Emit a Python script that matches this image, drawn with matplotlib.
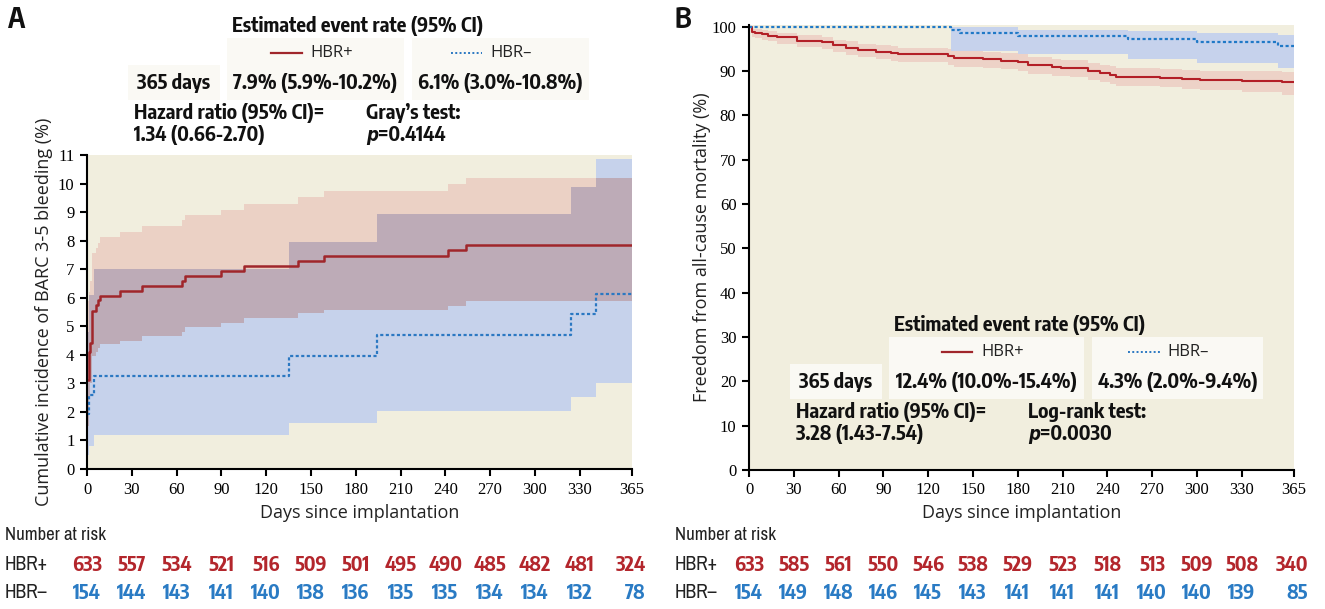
import matplotlib
matplotlib.use('Agg')
import matplotlib.pyplot as plt
import matplotlib.transforms as mtransforms
from matplotlib.patches import Rectangle
from matplotlib.lines import Line2D
import numpy as np

W, H = 1325, 609

# ---- panel A: cumulative incidence of BARC 3-5 bleeding (%) ----
a_pos_t = [0, 1.6, 2, 3.3, 5.8, 7.6, 8.7, 22, 37, 63.4, 65.6, 89.5, 105, 141, 159, 242, 254]
a_pos = [3.12, 4.09, 4.42, 5.53, 5.73, 5.92, 6.07, 6.22, 6.41, 6.58, 6.76, 6.93, 7.12, 7.29, 7.47, 7.67, 7.86]
a_pos_hi = [5.9, 6.2, 6.6, 7.55, 7.75, 7.9, 8.12, 8.31, 8.51, 8.72, 8.9, 9.09, 9.3, 9.52, 9.74, 9.97, 10.18]
a_pos_lo = [1.5, 2.5, 3.0, 3.95, 4.1, 4.25, 4.38, 4.5, 4.66, 4.8, 4.96, 5.1, 5.28, 5.45, 5.57, 5.72, 5.88]

a_neg_t = [0, 1.5, 4.9, 135, 194, 324, 341]
a_neg = [1.93, 2.6, 3.26, 3.97, 4.69, 5.42, 6.13]
a_neg_hi = [4.8, 6.1, 7.0, 7.96, 8.93, 9.87, 10.85]
a_neg_lo = [0.5, 0.82, 1.19, 1.6, 2.04, 2.51, 3.0]

# ---- panel B: freedom from all-cause mortality (%) ----
b_pos_t = [0, 1.8, 4, 8.5, 13, 18.5, 32, 49, 56, 65, 73, 85, 95, 100, 133.5, 137, 157, 169, 180,
           187, 203, 209, 215, 227, 235, 242, 246, 275, 290, 302, 330, 357]
b_pos = [100, 98.9, 98.6, 98.3, 98.0, 97.6, 96.9, 96.5, 95.8, 95.3, 94.8, 94.4, 94.1, 93.8, 93.3, 92.9,
         92.7, 92.3, 92.0, 91.4, 91.0, 90.8, 90.6, 90.1, 89.5, 89.2, 88.7, 88.4, 88.2, 88.0, 87.8, 87.5]
b_pos_hi = [100, 99.6, 99.4, 99.2, 99.0, 98.7, 98.1, 97.8, 97.1, 96.7, 96.2, 95.9, 95.6, 95.3, 94.9, 94.6,
            94.4, 94.0, 93.8, 93.2, 92.8, 92.6, 92.4, 91.9, 91.4, 91.1, 90.6, 90.4, 90.2, 90.1, 90.0, 89.9]
b_pos_lo = [100, 97.8, 97.4, 97.0, 96.7, 96.2, 95.4, 94.9, 94.2, 93.6, 93.1, 92.7, 92.3, 92.0, 91.4, 91.0,
            90.8, 90.4, 90.1, 89.4, 89.0, 88.8, 88.6, 88.1, 87.5, 87.1, 86.7, 86.3, 86.0, 85.7, 85.3, 84.7]

b_neg_t = [0, 135, 141, 180, 254, 300, 354]
b_neg = [100, 99.3, 98.6, 97.9, 97.2, 96.5, 95.7]
b_neg_hi = [100, 100, 100, 99.2, 99.0, 98.7, 98.2]
b_neg_lo = [100, 94.5, 94.5, 93.9, 92.7, 91.9, 90.6]

# ---- number at risk ----
risk_days = [0, 30, 60, 90, 120, 150, 180, 210, 240, 270, 300, 330, 365]
a_risk_pos = [633, 557, 534, 521, 516, 509, 501, 495, 490, 485, 482, 481, 324]
a_risk_neg = [154, 144, 143, 141, 140, 138, 136, 135, 135, 134, 134, 132, 78]
b_risk_pos = [633, 585, 561, 550, 546, 538, 529, 523, 518, 513, 509, 508, 340]
b_risk_neg = [154, 149, 148, 146, 145, 143, 141, 141, 141, 140, 140, 139, 85]

xticks = [0, 30, 60, 90, 120, 150, 180, 210, 240, 270, 300, 330, 365]

BG = '#F1EEDE'
BOX = '#FAF9F4'
COND = 'Encode Sans Condensed'
NARROW = 'Archivo Narrow'
SANS = 'Open Sans'
SERIF = 'Liberation Serif'
RISK_RED = '#B3262C'
RISK_BLUE = '#2A7BC4'

plt.rcParams['font.family'] = [SANS, 'DejaVu Sans']


def ext(t, *vals):
    # carry the last value out to day 365 for step drawing
    out = [list(t) + [365]]
    for v in vals:
        out.append(list(v) + [v[-1]])
    return out


def at(grid, t, v):
    idx = np.searchsorted(t, grid, side='right') - 1
    return np.asarray(v)[idx]


def fig_rect(x0, x1, y0, y1):
    return [x0 / W, 1 - y1 / H, (x1 - x0) / W, (y1 - y0) / H]


fig = plt.figure(figsize=(W / 100, H / 100), dpi=100)
axA = fig.add_axes(fig_rect(87, 632, 155, 469))
axB = fig.add_axes(fig_rect(749, 1294, 25, 470))


def style_axis(ax, ymax, ystep):
    ax.set_facecolor(BG)
    for s in ['top', 'right']:
        ax.spines[s].set_visible(False)
    for s in ['left', 'bottom']:
        ax.spines[s].set_linewidth(1.5)
        ax.spines[s].set_zorder(5)
    ax.set_xlim(0, 365)
    ax.set_xticks(xticks)
    ax.set_yticks(np.arange(0, ymax + 0.1, ystep))
    ax.tick_params(direction='out', length=5, width=1.5, pad=4,
                   labelsize=12, labelfontfamily=SERIF)
    ax.set_xlabel('Days since implantation', fontsize=13, color='#222222')


# ---------------- panel A ----------------
style_axis(axA, 11, 1)
axA.set_ylim(0, 11)
t, v, hi, lo = ext(a_pos_t, a_pos, a_pos_hi, a_pos_lo)
tn, vn, hin, lon = ext(a_neg_t, a_neg, a_neg_hi, a_neg_lo)
axA.fill_between(t, lo, hi, step='post', color='#EBD1C5', lw=0, zorder=1)
axA.fill_between(tn, lon, hin, step='post', color='#C6D2EB', lw=0, zorder=1.1)
grid = np.union1d(t, tn)
ov_lo = np.maximum(at(grid, t, lo), at(grid, tn, lon))
ov_hi = np.maximum(np.minimum(at(grid, t, hi), at(grid, tn, hin)), ov_lo)
axA.fill_between(grid, ov_lo, ov_hi, step='post', color='#BDABB7', lw=0, zorder=1.2)
axA.step(t, v, where='post', color='#A0262B', lw=1.8, zorder=3)
axA.step(tn, vn, where='post', color='#2B78C2', lw=1.6, ls=(0, (1.4, 1.1)), zorder=3)
axA.set_ylabel('Cumulative incidence of BARC 3-5 bleeding (%)', fontsize=13, color='#222222')
axA.yaxis.set_label_coords(-0.062, 0.5)
axA.xaxis.set_label_coords(0.5, -0.112)

# ---------------- panel B ----------------
style_axis(axB, 100, 10)
axB.set_ylim(0, 100.4)
t, v, hi, lo = ext(b_pos_t, b_pos, b_pos_hi, b_pos_lo)
tn, vn, hin, lon = ext(b_neg_t, b_neg, b_neg_hi, b_neg_lo)
axB.fill_between(t, lo, hi, step='post', color='#EDD2C7', lw=0, zorder=1)
axB.fill_between(tn, lon, hin, step='post', color='#C6D2EC', lw=0, zorder=1.1)
axB.step(t, v, where='post', color='#B31F27', lw=1.5, zorder=3)
axB.step(tn, vn, where='post', color='#2079C7', lw=1.6, ls=(0, (1.4, 1.1)), zorder=3,
         clip_on=False)
axB.set_ylabel('Freedom from all-cause mortality (%)', fontsize=13, color='#222222')
axB.yaxis.set_label_coords(-0.07, 0.5)
axB.xaxis.set_label_coords(0.5, -0.077)


# ---------------- annotation blocks ----------------
def ftext(x, y, s, **kw):
    kw.setdefault('va', 'center')
    return fig.text(x / W, 1 - y / H, s, **kw)


def box(x0, x1, y0, y1):
    fig.add_artist(Rectangle((x0 / W, 1 - y1 / H), (x1 - x0) / W, (y1 - y0) / H,
                             transform=fig.transFigure, facecolor=BOX, edgecolor='none', zorder=2))


def key(x0, x1, y, **kw):
    fig.add_artist(Line2D([x0 / W, x1 / W], [1 - y / H, 1 - y / H],
                          transform=fig.transFigure, zorder=4, **kw))


BOLD = dict(family=COND, weight='bold', size=14.5, color='#111111')


def p_value(ax, x, y, s):
    pt = ftext(x, y, 'p', family='DejaVu Sans', stretch='condensed', style='italic',
               weight='bold', size=13.5, color='#111111')
    ann = ax.annotate(s, xy=(1, 0.5), xycoords=pt, va='center', ha='left',
                      annotation_clip=False, **BOLD)
    ann.set_zorder(6)


def block(ax, dx, dy, w1, w2, v1, v2, hr, test, pval):
    # dx, dy shift the whole block (pixel layout of panel A as base)
    ftext(358 + dx, 26 + dy, 'Estimated event rate (95% CI)', ha='center', **BOLD)
    box(227 + dx, 227 + dx + w1, 38 + dy, 100 + dy)
    box(227 + dx + w1 + 8, 227 + dx + w1 + 8 + w2, 38 + dy, 100 + dy)
    box(128 + dx, 220 + dx, 65 + dy, 100 + dy)
    c1 = 227 + dx + w1 / 2
    c2 = 227 + dx + w1 + 8 + w2 / 2
    key(c1 - 45, c1 - 14, 53 + dy, color='#A0262B', lw=1.6)
    ftext(c1 - 5, 53 + dy, 'HBR+', family=SANS, size=12, color='#222222')
    key(c2 - 50, c2 - 18, 53 + dy, color='#2B78C2', lw=1.4, ls=(0, (1, 1.2)))
    ftext(c2 - 10, 53 + dy, 'HBR\u2013', family=SANS, size=12, color='#222222')
    ftext(174 + dx, 83 + dy, '365 days', ha='center', **BOLD)
    ftext(c1, 83 + dy, v1, ha='center', **BOLD)
    ftext(c2, 83 + dy, v2, ha='center', **BOLD)
    ftext(134 + dx, 113 + dy, 'Hazard ratio (95% CI)=', **BOLD)
    ftext(134 + dx, 135 + dy, hr, **BOLD)
    ftext(366 + dx, 113 + dy, test, **BOLD)
    p_value(ax, 366 + dx, 135 + dy, pval)


block(axA, 0, 0, 177, 177, '7.9% (5.9%-10.2%)', '6.1% (3.0%-10.8%)',
      '1.34 (0.66-2.70)', 'Gray\u2019s test:', '=0.4144')
block(axB, 662, 299, 195, 171, '12.4% (10.0%-15.4%)', '4.3% (2.0%-9.4%)',
      '3.28 (1.43-7.54)', 'Log-rank test:', '=0.0030')

ftext(8, 20, 'A', family=COND, weight='bold', size=20, color='#111111')
ftext(675, 20, 'B', family=COND, weight='bold', size=20, color='#111111')


# ---------------- number at risk ----------------
def risk_table(ax, x_left, pos, neg):
    ftext(x_left, 535, 'Number at risk', family=[NARROW, COND], size=13.5, color='#222222')
    ftext(x_left, 565, 'HBR+', family=[NARROW, COND], size=14, color='#222222')
    ftext(x_left, 593, 'HBR\u2013', family=[NARROW, COND], size=14, color='#222222')
    tr = mtransforms.blended_transform_factory(ax.transData, fig.transFigure)
    for d, n1, n2 in zip(risk_days, pos, neg):
        last = d == risk_days[-1]
        for n, y, c in [(n1, 565, RISK_RED), (n2, 593, RISK_BLUE)]:
            ax.annotate(str(n), xy=(d, 1 - y / H), xycoords=tr,
                        xytext=(10 if last else 0, 0), textcoords='offset points',
                        ha='right' if last else 'center', va='center',
                        family=COND, weight='bold', size=14.5, color=c,
                        annotation_clip=False)


risk_table(axA, 5, a_risk_pos, a_risk_neg)
risk_table(axB, 675, b_risk_pos, b_risk_neg)

fig.savefig('out.png', dpi=100, facecolor='white')
